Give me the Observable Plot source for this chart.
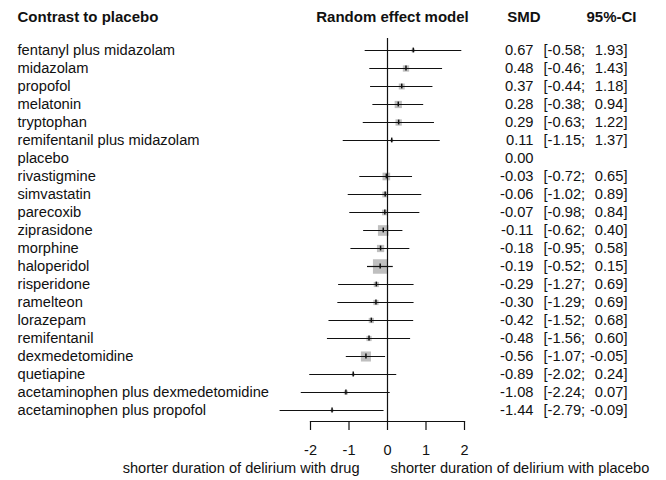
<!DOCTYPE html>
<html>
<head>
<meta charset="utf-8">
<script src="https://cdn.jsdelivr.net/npm/d3@7"></script>
<script src="https://cdn.jsdelivr.net/npm/@observablehq/plot@0.6"></script>
<style>
  body { margin: 0; background: #fff; }
</style>
</head>
<body>
<div id="chart"></div>
<script>
// Network meta-analysis: duration of delirium, each treatment vs placebo
const treatments = [
  "fentanyl plus midazolam", "midazolam", "propofol", "melatonin", "tryptophan",
  "remifentanil plus midazolam", "placebo", "rivastigmine", "simvastatin", "parecoxib",
  "ziprasidone", "morphine", "haloperidol", "risperidone", "ramelteon",
  "lorazepam", "remifentanil", "dexmedetomidine", "quetiapine",
  "acetaminophen plus dexmedetomidine", "acetaminophen plus propofol"
];
const smd   = [0.67, 0.48, 0.37, 0.28, 0.29, 0.11, 0.00, -0.03, -0.06, -0.07, -0.11, -0.18, -0.19, -0.29, -0.30, -0.42, -0.48, -0.56, -0.89, -1.08, -1.44];
const lower = [-0.58, -0.46, -0.44, -0.38, -0.63, -1.15, null, -0.72, -1.02, -0.98, -0.62, -0.95, -0.52, -1.27, -1.29, -1.52, -1.56, -1.07, -2.02, -2.24, -2.79];
const upper = [1.93, 1.43, 1.18, 0.94, 1.22, 1.37, null, 0.65, 0.89, 0.84, 0.40, 0.58, 0.15, 0.69, 0.69, 0.68, 0.60, -0.05, 0.24, 0.07, -0.09];
// relative weight of each comparison (drawn as square area)
const weight = [6, 19, 17, 25, 19, 4, null, 28, 16, 15, 54, 25, 100, 13, 13, 13, 13, 48, 4, 8, 4];
const xTicks = [-2, -1, 0, 1, 2];

const rows = treatments.map((t, i) => ({t, smd: smd[i], lo: lower[i], hi: upper[i], w: weight[i]}));
const withCI = rows.filter(d => d.lo != null);
const withBox = rows.filter(d => d.w != null);
const fmt = v => v.toFixed(2);

const font = "'Liberation Sans', Arial, sans-serif";
const ink = "#111";
const rowStep = 18.2;
const header = {fontWeight: "bold", fontSize: 15, lineAnchor: "middle", dy: -21, fill: ink};

const chart = Plot.plot({
  width: 666,
  height: 480,
  marginLeft: 310,
  marginRight: 202,
  marginTop: 38,
  marginBottom: 59,
  style: {fontFamily: font, fontSize: "14.7px", color: ink, background: "#fff"},
  x: {domain: [-2, 2]},
  y: {type: "band", domain: treatments, range: [39.2, 39.2 + rowStep * treatments.length], padding: 0, axis: null},
  r: {type: "sqrt", domain: [0, 100], range: [0, 14.5 / Math.sqrt(Math.PI)]},
  marks: [
    // weight squares
    Plot.dot(withBox, {x: "smd", y: "t", r: "w", symbol: "square", fill: "#bfbfbf", stroke: null}),
    // line of no effect
    Plot.ruleX([0], {stroke: ink, strokeWidth: 1.2}),
    // confidence intervals
    Plot.ruleY(withCI, {y: "t", x1: "lo", x2: "hi", stroke: ink, strokeWidth: 1.2}),
    // point estimates
    Plot.tickX(withCI, {x: "smd", y: "t", insetTop: rowStep / 2 - 2.5, insetBottom: rowStep / 2 - 2.5, stroke: ink, strokeWidth: 1.5}),
    // treatment labels
    Plot.text(rows, {y: "t", text: "t", frameAnchor: "left", textAnchor: "start", dx: -293, fill: ink}),
    // SMD column
    Plot.text(rows, {y: "t", text: d => fmt(d.smd), frameAnchor: "right", textAnchor: "end", dx: 69, fill: ink}),
    // 95%-CI column
    Plot.text(withCI, {y: "t", text: d => `[${fmt(d.lo)};`, frameAnchor: "right", textAnchor: "start", dx: 79, fill: ink}),
    Plot.text(withCI, {y: "t", text: d => `${fmt(d.hi)}]`, frameAnchor: "right", textAnchor: "end", dx: 163, fill: ink}),
    // column headers
    Plot.text(["Contrast to placebo"], {...header, frameAnchor: "top-left", textAnchor: "start", dx: -293}),
    Plot.text(["Random effect model"], {...header, x: 0, frameAnchor: "top", textAnchor: "middle", dx: 5}),
    Plot.text(["SMD"], {...header, frameAnchor: "top-right", textAnchor: "end", dx: 76}),
    Plot.text(["95%-CI"], {...header, frameAnchor: "top-right", textAnchor: "end", dx: 172}),
    // x axis
    Plot.frame({anchor: "bottom", stroke: ink, strokeWidth: 1.2}),
    Plot.axisX({ticks: xTicks, tickSize: 9, tickPadding: 14, fontSize: 14.5, tickFormat: d => String(d), label: null, stroke: ink, strokeWidth: 1.2, fill: ink}),
    // direction labels
    Plot.text(["shorter duration of delirium with drug"], {x: 0, frameAnchor: "bottom", lineAnchor: "middle", textAnchor: "end", fontSize: 14.6, dx: -28, dy: 47, fill: ink}),
    Plot.text(["shorter duration of delirium with placebo"], {x: 0, frameAnchor: "bottom", lineAnchor: "middle", textAnchor: "start", fontSize: 14.6, dx: 3, dy: 47, fill: ink})
  ]
});

document.getElementById("chart").append(chart);
</script>
</body>
</html>
